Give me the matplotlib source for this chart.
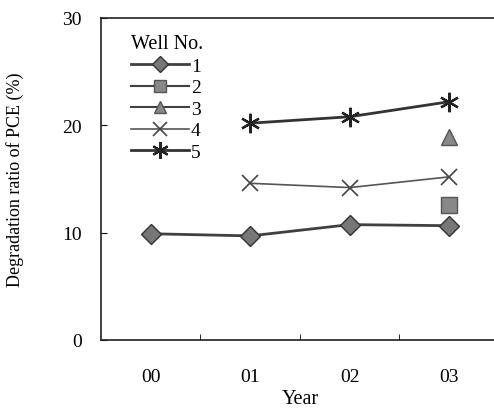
import matplotlib
matplotlib.use("Agg")
import matplotlib.pyplot as plt
import numpy as np

years = ["00", "01", "02", "03"]
well_labels = ["1", "2", "3", "4", "5"]
well1 = [9.9, 9.7, 10.75, 10.65]
well2 = [None, None, None, 12.6]
well3 = [None, None, None, 18.9]
well4 = [None, 14.6, 14.2, 15.2]
well5 = [None, 20.2, 20.8, 22.2]
series = [well1, well2, well3, well4, well5]
yticks = [0, 10, 20, 30]

plt.rcParams['font.family'] = ['Liberation Serif', 'DejaVu Serif']

fig = plt.figure(figsize=(4.94, 4.10), dpi=100)
ax = fig.add_axes([101/494, (410-341)/410, (494-101)/494 + 0.01, (341-19)/410])

styles = [
    dict(marker='D', ms=10, mfc='#777777', mec='#333333', color='#404040', lw=2.0),
    dict(marker='s', ms=11, mfc='#888888', mec='#555555', color='#404040', lw=1.5),
    dict(marker='^', ms=11, mfc='#888888', mec='#555555', color='#404040', lw=1.5),
    dict(marker='x', ms=12, mfc='none', mec='#444444', mew=1.2, color='#555555', lw=1.2),
    dict(marker=(6, 2, 0), ms=14, mfc='none', mec='#222222', mew=1.6, color='#333333', lw=2.0),
]

x = np.arange(len(years))
for vals, lab, st in zip(series, well_labels, styles):
    xs = [xi for xi, v in zip(x, vals) if v is not None]
    ys = [v for v in vals if v is not None]
    ax.plot(xs, ys, label=lab, **st)

ax.set_xlim(-0.5, 3.5)
ax.set_ylim(0, 30)
ax.set_yticks(yticks)
ax.set_yticklabels([str(t) for t in yticks], fontsize=14)
ax.set_xticks(x)
ax.set_xticklabels(years, fontsize=14)
ax.set_xticks([0.5, 1.5, 2.5], minor=True)
ax.tick_params(axis='x', which='major', length=0, pad=20)
ax.tick_params(axis='x', which='minor', length=4, direction='in')
ax.tick_params(axis='y', length=4, direction='in', pad=14)
ax.spines['right'].set_visible(False)
for s in ['left', 'bottom', 'top']:
    ax.spines[s].set_color('#222222')
    ax.spines[s].set_linewidth(1.2)

ax.set_xlabel("Year", fontsize=14.5, labelpad=3)
ax.set_ylabel("Degradation ratio of PCE (%)", fontsize=13, labelpad=27)

leg = ax.legend(title="Well No.", loc='upper left', bbox_to_anchor=(0.045, 0.985),
                frameon=False, fontsize=14, title_fontsize=14.5, handlelength=3.0,
                handletextpad=0.1, labelspacing=0.2, borderaxespad=0.2,
                markerscale=0.85)
leg._legend_box.align = "left"

fig.savefig("out.png", dpi=100)
